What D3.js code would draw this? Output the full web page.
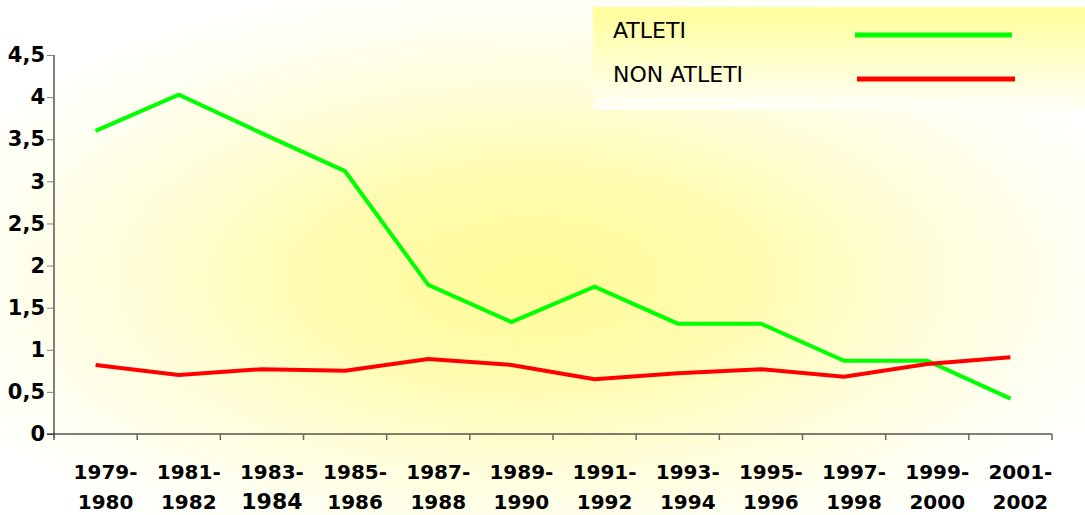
<!DOCTYPE html>
<html>
<head>
<meta charset="utf-8">
<script src="https://cdn.jsdelivr.net/npm/d3@7"></script>
<style>
  html, body { margin: 0; padding: 0; background: #fff; }
  svg { display: block; }
</style>
</head>
<body>
<svg id="chart" width="1085" height="515"></svg>
<script>
// Seasons on the x axis (two-line labels)
const seasons = ["1979-1980", "1981-1982", "1983-1984", "1985-1986", "1987-1988", "1989-1990",
                 "1991-1992", "1993-1994", "1995-1996", "1997-1998", "1999-2000", "2001-2002"];
// Series values
const atleti    = [3.60, 4.03, 3.57, 3.12, 1.77, 1.33, 1.75, 1.31, 1.31, 0.87, 0.87, 0.42];
const nonAtleti = [0.82, 0.70, 0.77, 0.75, 0.89, 0.82, 0.65, 0.72, 0.77, 0.68, 0.83, 0.91];
// Y tick values and labels
const yTicks = [0, 0.5, 1, 1.5, 2, 2.5, 3, 3.5, 4, 4.5];
const seriesNames = ["ATLETI", "NON ATLETI"];
const seriesColors = ["#00ff00", "#ff0000"];

const W = 1085, H = 515;
const FONT = "DejaVu Sans, Verdana, sans-serif";
const svg = d3.select("#chart");
const defs = svg.append("defs");

// Soft yellow glow across the whole chart area
const bg = defs.append("radialGradient").attr("id", "bgGlow")
  .attr("cx", 0.49).attr("cy", 0.54).attr("r", 0.6)
  .attr("fx", 0.49).attr("fy", 0.54);
bg.append("stop").attr("offset", "0%").attr("stop-color", "#fffb96");
bg.append("stop").attr("offset", "35%").attr("stop-color", "#fffcb2");
bg.append("stop").attr("offset", "62%").attr("stop-color", "#fffeda");
bg.append("stop").attr("offset", "85%").attr("stop-color", "#fffff4");
bg.append("stop").attr("offset", "100%").attr("stop-color", "#ffffff");
svg.append("rect").attr("width", W).attr("height", H).attr("fill", "url(#bgGlow)");

// Legend box gradient (yellow top to white bottom)
const lg = defs.append("linearGradient").attr("id", "legGrad")
  .attr("x1", 0).attr("y1", 0).attr("x2", 0).attr("y2", 1);
lg.append("stop").attr("offset", "0%").attr("stop-color", "#ffff99");
lg.append("stop").attr("offset", "100%").attr("stop-color", "#fffff8");

const x = d3.scaleBand().domain(seasons).range([54, 1052]).padding(0);
const y = d3.scaleLinear().domain([0, 4.5]).range([434, 55]);
const fmt = v => String(v).replace(".", ",");

// Y axis
const yAxis = svg.append("g").attr("transform", "translate(54,0)")
  .call(d3.axisLeft(y).tickValues(yTicks).tickFormat(fmt).tickSize(7).tickPadding(2));
yAxis.select(".domain").attr("stroke", "#808080").attr("stroke-width", 2)
  .attr("d", "M0,55V438");
yAxis.selectAll(".tick line").attr("stroke", "#808080");
yAxis.selectAll(".tick text")
  .attr("font-family", FONT)
  .attr("font-weight", "bold").attr("font-size", 21).attr("fill", "#000");

// X axis
const xAxis = svg.append("g").attr("transform", "translate(0,434)")
  .call(d3.axisBottom(x).tickValues([]).tickSizeOuter(0));
xAxis.select(".domain").attr("stroke", "#000").attr("stroke-width", 1.2)
  .attr("d", "M47,0H1052");
// band boundary ticks
xAxis.selectAll(".bt").data(seasons.concat(["end"])).join("line")
  .attr("class", "bt")
  .attr("x1", (d, i) => i < seasons.length ? x(d) : x.range()[1])
  .attr("x2", (d, i) => i < seasons.length ? x(d) : x.range()[1])
  .attr("y1", 0).attr("y2", 6).attr("stroke", "#666").attr("stroke-width", 1.5);

// X labels (two lines)
const lx = d => x(d) + x.bandwidth() / 2 + 10;
const xl = svg.append("g").selectAll("text").data(seasons).join("text")
  .attr("x", lx)
  .attr("text-anchor", "middle")
  .attr("font-family", FONT)
  .attr("font-weight", "bold").attr("font-size", 20).attr("fill", "#000");
xl.append("tspan").attr("y", 479).text(d => d.split("-")[0] + "-");
xl.append("tspan")
  .attr("x", lx)
  .attr("y", (d, i) => i === 2 ? 509 : 509)
  .attr("font-size", (d, i) => i === 2 ? 22 : 20)
  .text(d => d.split("-")[1]);

// Lines
const line = d3.line().x((d, i) => x(seasons[i]) + x.bandwidth() / 2).y(d => y(d));
[atleti, nonAtleti].forEach((s, k) => {
  svg.append("path").datum(s).attr("d", line)
    .attr("fill", "none").attr("stroke", seriesColors[k]).attr("stroke-width", 4)
    .attr("stroke-linejoin", "miter");
});

// Legend
const leg = svg.append("g");
leg.append("rect").attr("x", 593).attr("y", 7).attr("width", 492).attr("height", 103)
  .attr("fill", "url(#legGrad)");
const legRows = [{ty: 38, ly: 35, x1: 855, x2: 1012}, {ty: 82, ly: 79, x1: 857, x2: 1015}];
seriesNames.forEach((n, k) => {
  leg.append("text").attr("x", 613).attr("y", legRows[k].ty)
    .attr("font-family", FONT)
    .attr("font-size", 22).attr("fill", "#000").text(n);
  leg.append("line").attr("x1", legRows[k].x1).attr("x2", legRows[k].x2)
    .attr("y1", legRows[k].ly).attr("y2", legRows[k].ly)
    .attr("stroke", seriesColors[k]).attr("stroke-width", 5);
});
</script>
</body>
</html>
